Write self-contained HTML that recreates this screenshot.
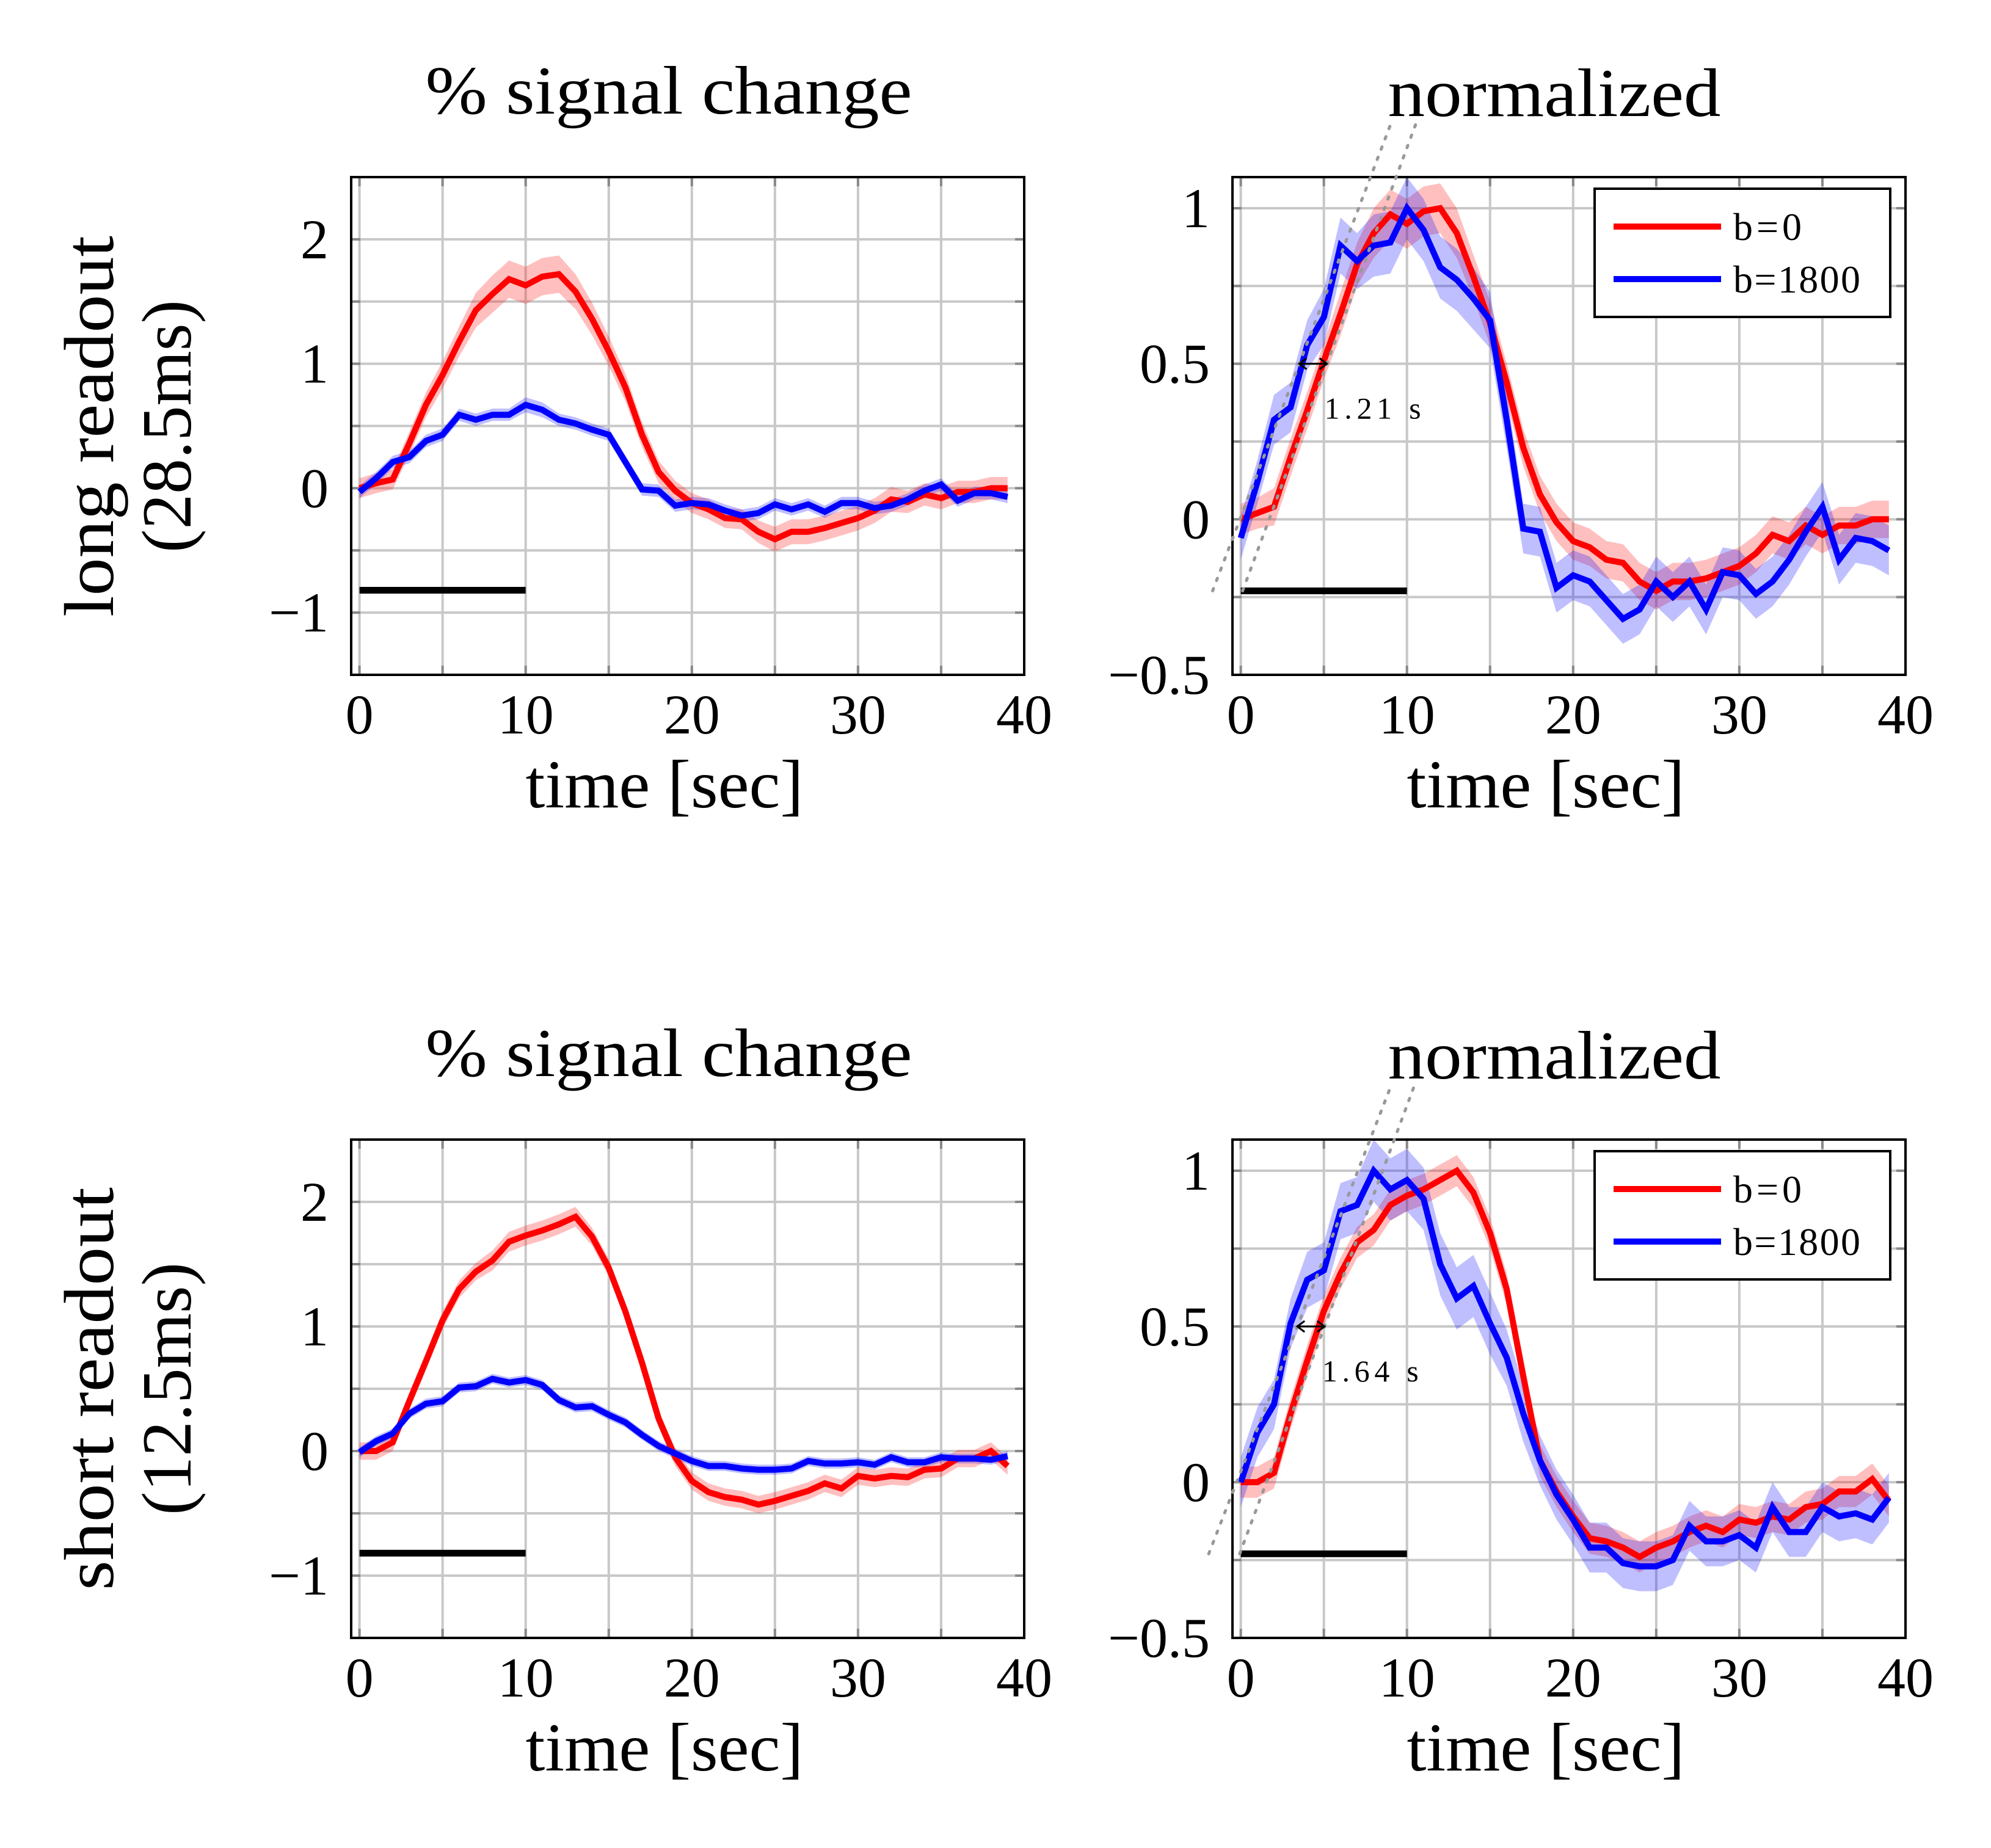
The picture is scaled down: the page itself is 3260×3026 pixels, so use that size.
<!DOCTYPE html>
<html><head><meta charset="utf-8"><title>BOLD response</title>
<style>
html,body{margin:0;padding:0;background:#fff;}
svg{display:block;font-family:"Liberation Serif",serif;}
</style></head>
<body>
<svg id="fig" width="3260" height="3026" viewBox="0 0 3260 3026" xmlns="http://www.w3.org/2000/svg">
<rect x="0" y="0" width="3260" height="3026" fill="#fff"/>
<text x="1095" y="186" font-size="112" text-anchor="middle" textLength="797" lengthAdjust="spacingAndGlyphs">% signal change</text>
<text x="2545" y="190" font-size="112" text-anchor="middle" textLength="545" lengthAdjust="spacingAndGlyphs">normalized</text>
<text x="1095" y="1762" font-size="112" text-anchor="middle" textLength="797" lengthAdjust="spacingAndGlyphs">% signal change</text>
<text x="2545" y="1766" font-size="112" text-anchor="middle" textLength="545" lengthAdjust="spacingAndGlyphs">normalized</text>
<g transform="translate(185,698) rotate(-90)">
<text x="0" y="0" font-size="115" text-anchor="middle" textLength="624" lengthAdjust="spacingAndGlyphs">long readout</text>
<text x="0" y="127" font-size="115" text-anchor="middle" textLength="414" lengthAdjust="spacingAndGlyphs">(28.5ms)</text>
</g>
<g transform="translate(185,2274) rotate(-90)">
<text x="0" y="0" font-size="115" text-anchor="middle" textLength="660" lengthAdjust="spacingAndGlyphs">short readout</text>
<text x="0" y="127" font-size="115" text-anchor="middle" textLength="414" lengthAdjust="spacingAndGlyphs">(12.5ms)</text>
</g>
</svg>
<script>
// ---------- data ----------
const times = [0,1,2,3,4,5,6,7,8,9,10,11,12,13,14,15,16,17,18,19,20,21,22,23,24,25,26,27,28,29,30,31,32,33,34,35,36,37,38,39];
const xTicks = [0,10,20,30,40];
const pctTicks = [-1,0,1,2];
const pctTickLabels = ["\u22121","0","1","2"];
const normTicks = [-0.5,0,0.5,1];
const normTickLabels = ["\u22120.5","0","0.5","1"];
const legendLabels = ["b=0","b=1800"];

const tlRed  = [0.0,0.04,0.07,0.36,0.67,0.91,1.18,1.43,1.56,1.68,1.63,1.70,1.72,1.58,1.36,1.10,0.81,0.43,0.13,-0.02,-0.12,-0.17,-0.24,-0.25,-0.35,-0.41,-0.35,-0.35,-0.32,-0.28,-0.24,-0.18,-0.09,-0.11,-0.05,-0.08,-0.03,-0.03,0.0,0.0];
const tlRedErr = [0.08,0.08,0.08,0.09,0.1,0.11,0.12,0.14,0.15,0.15,0.15,0.15,0.15,0.14,0.13,0.12,0.11,0.1,0.09,0.08,0.08,0.08,0.08,0.08,0.09,0.1,0.1,0.1,0.1,0.1,0.1,0.1,0.1,0.09,0.09,0.09,0.09,0.09,0.09,0.09];
const tlBlue = [-0.03,0.08,0.21,0.25,0.38,0.43,0.59,0.55,0.59,0.59,0.67,0.63,0.55,0.52,0.47,0.43,0.21,-0.01,-0.02,-0.14,-0.12,-0.13,-0.18,-0.22,-0.20,-0.13,-0.17,-0.13,-0.19,-0.12,-0.12,-0.16,-0.14,-0.09,-0.02,0.03,-0.10,-0.04,-0.04,-0.07];
const tlBlueErr = [0.05,0.05,0.05,0.05,0.05,0.05,0.05,0.05,0.05,0.05,0.06,0.06,0.05,0.05,0.05,0.05,0.05,0.05,0.05,0.05,0.05,0.05,0.05,0.05,0.05,0.05,0.05,0.05,0.05,0.05,0.05,0.05,0.05,0.05,0.05,0.05,0.05,0.05,0.05,0.05];

const trRed  = [0.0,0.02,0.04,0.2,0.35,0.51,0.66,0.82,0.92,0.98,0.95,0.99,1.0,0.92,0.78,0.63,0.44,0.23,0.08,-0.01,-0.07,-0.09,-0.13,-0.14,-0.2,-0.23,-0.2,-0.2,-0.19,-0.17,-0.15,-0.11,-0.05,-0.07,-0.02,-0.05,-0.02,-0.02,0.0,0.0];
const trRedErr = [0.05,0.05,0.06,0.06,0.06,0.06,0.07,0.07,0.08,0.08,0.08,0.08,0.08,0.08,0.07,0.07,0.06,0.06,0.06,0.06,0.06,0.06,0.06,0.06,0.06,0.06,0.06,0.06,0.06,0.06,0.06,0.06,0.06,0.06,0.06,0.06,0.06,0.06,0.06,0.06];
const trBlue = [-0.06,0.12,0.32,0.36,0.56,0.65,0.88,0.83,0.88,0.89,1.0,0.93,0.81,0.77,0.71,0.64,0.32,-0.03,-0.04,-0.22,-0.18,-0.2,-0.26,-0.32,-0.29,-0.2,-0.25,-0.2,-0.29,-0.17,-0.18,-0.24,-0.2,-0.13,-0.04,0.04,-0.13,-0.06,-0.07,-0.1];
const trBlueErr = [0.07,0.07,0.08,0.08,0.08,0.09,0.09,0.09,0.1,0.1,0.1,0.1,0.1,0.1,0.1,0.09,0.09,0.08,0.08,0.08,0.08,0.08,0.08,0.08,0.08,0.08,0.08,0.08,0.08,0.08,0.08,0.08,0.08,0.08,0.08,0.08,0.08,0.08,0.08,0.08];
const trTangentX = [3.52,5.18];
const trTangentSlope = [0.140,0.144];
const trLagLabel = "1.21 s";

const blRed  = [0.0,0.0,0.07,0.4,0.72,1.05,1.3,1.44,1.53,1.68,1.73,1.77,1.82,1.88,1.72,1.47,1.12,0.71,0.26,-0.05,-0.24,-0.33,-0.37,-0.39,-0.43,-0.40,-0.36,-0.32,-0.26,-0.30,-0.20,-0.22,-0.20,-0.21,-0.15,-0.14,-0.06,-0.06,0.0,-0.12];
const blRedErr = [0.07,0.07,0.07,0.07,0.07,0.07,0.07,0.07,0.08,0.08,0.08,0.08,0.08,0.08,0.07,0.07,0.07,0.07,0.07,0.07,0.07,0.07,0.07,0.07,0.07,0.07,0.07,0.07,0.07,0.07,0.07,0.07,0.07,0.07,0.07,0.07,0.07,0.07,0.07,0.07];
const blBlue = [-0.01,0.08,0.14,0.3,0.38,0.4,0.51,0.52,0.58,0.55,0.57,0.53,0.41,0.35,0.36,0.29,0.23,0.13,0.04,-0.02,-0.08,-0.12,-0.12,-0.14,-0.15,-0.15,-0.14,-0.08,-0.1,-0.1,-0.09,-0.11,-0.05,-0.09,-0.09,-0.05,-0.06,-0.06,-0.07,-0.04];
const blBlueErr = [0.04,0.04,0.04,0.04,0.04,0.04,0.04,0.04,0.04,0.04,0.04,0.04,0.04,0.04,0.04,0.04,0.04,0.04,0.04,0.04,0.04,0.04,0.04,0.04,0.04,0.04,0.04,0.04,0.04,0.04,0.04,0.04,0.04,0.04,0.04,0.04,0.04,0.04,0.04,0.04];

const brRed  = [0.0,0.0,0.03,0.22,0.39,0.55,0.67,0.77,0.81,0.89,0.92,0.94,0.97,1.0,0.93,0.8,0.62,0.34,0.07,-0.03,-0.11,-0.18,-0.19,-0.21,-0.24,-0.21,-0.19,-0.16,-0.14,-0.16,-0.12,-0.13,-0.11,-0.12,-0.08,-0.07,-0.03,-0.03,0.01,-0.06];
const brRedErr = [0.05,0.05,0.05,0.05,0.05,0.05,0.05,0.05,0.05,0.05,0.05,0.05,0.05,0.05,0.05,0.05,0.05,0.05,0.05,0.05,0.05,0.05,0.05,0.05,0.05,0.05,0.05,0.05,0.05,0.05,0.05,0.05,0.05,0.05,0.05,0.05,0.05,0.05,0.05,0.05];
const brBlue = [0.0,0.16,0.25,0.51,0.65,0.68,0.87,0.89,1.0,0.94,0.97,0.91,0.70,0.59,0.63,0.51,0.40,0.22,0.07,-0.04,-0.12,-0.21,-0.21,-0.26,-0.27,-0.27,-0.25,-0.14,-0.19,-0.19,-0.17,-0.21,-0.08,-0.16,-0.16,-0.08,-0.11,-0.10,-0.12,-0.05];
const brBlueErr = [0.08,0.08,0.08,0.08,0.09,0.09,0.09,0.09,0.1,0.1,0.1,0.1,0.1,0.1,0.1,0.1,0.09,0.09,0.08,0.08,0.08,0.08,0.08,0.08,0.08,0.08,0.08,0.08,0.08,0.08,0.08,0.08,0.08,0.08,0.08,0.08,0.08,0.08,0.08,0.08];
const brTangentX = [3.40,5.04];
const brTangentSlope = [0.137,0.143];
const brLagLabel = "1.64 s";

const stimOn = [0,10];

// ---------- drawing ----------
const NS = "http://www.w3.org/2000/svg";
const svg = document.getElementById("fig");
function mk(tag, attrs, parent){
  const e = document.createElementNS(NS, tag);
  for (const k in attrs) e.setAttribute(k, attrs[k]);
  (parent||svg).appendChild(e);
  return e;
}

function panel(id, L, T, W, H, ymin, ymax, ygrid, yTicks, yLabels, red, redErr, blue, blueErr, stimY, legend, tanX, tanS, lagLabel){
  const xmin = -0.5, xmax = 40;
  const sx = v => L + (v - xmin) / (xmax - xmin) * W;
  const sy = v => T + (ymax - v) / (ymax - ymin) * H;
  const g = mk("g", {});
  
  
  const cp = mk("clipPath", {id: id + "-clip"}, g);
  mk("rect", {x: L, y: T, width: W, height: H}, cp);
  // grid
  const grid = mk("g", {stroke: "#c8c8c8", "stroke-width": 4}, g);
  
  
  for (let x = 0; x <= 40; x += 5) mk("line", {x1: sx(x), x2: sx(x), y1: T, y2: T + H}, grid);
  for (let k = Math.ceil(ymin / ygrid); k * ygrid <= ymax + 1e-9; k++) {
    const y = sy(k * ygrid);
    mk("line", {x1: L, x2: L + W, y1: y, y2: y}, grid);
  }
  // tick marks
  const tk = mk("g", {stroke: "#888", "stroke-width": 4}, g);
  for (let x = 0; x <= 40; x += 5) {
    mk("line", {x1: sx(x), x2: sx(x), y1: T, y2: T + 15}, tk);
    mk("line", {x1: sx(x), x2: sx(x), y1: T + H, y2: T + H - 15}, tk);
  }
  for (let k = Math.ceil(ymin / ygrid); k * ygrid <= ymax + 1e-9; k++) {
    const y = sy(k * ygrid);
    mk("line", {x1: L, x2: L + 15, y1: y, y2: y}, tk);
    mk("line", {x1: L + W, x2: L + W - 15, y1: y, y2: y}, tk);
  }
  const plot = mk("g", {"clip-path": "url(#" + id + "-clip)"}, g);
  function band(vals, err, fill, name){
    let d = "";
    times.forEach((t, i) => { d += (i ? "L" : "M") + sx(t).toFixed(1) + "," + sy(vals[i] + err[i]).toFixed(1); });
    for (let i = times.length - 1; i >= 0; i--) d += "L" + sx(times[i]).toFixed(1) + "," + sy(vals[i] - err[i]).toFixed(1);
    const p = mk("path", {d: d + "Z", fill: fill, stroke: "none"}, plot);
    
    
  }
  function line(vals, color, name){
    const pts = times.map((t, i) => sx(t).toFixed(1) + "," + sy(vals[i]).toFixed(1)).join(" ");
    const p = mk("polyline", {points: pts, fill: "none", stroke: color, "stroke-width": 10, "stroke-linejoin": "miter"}, plot);
    
    
  }
  band(red, redErr, "rgba(255,0,0,0.25)", "red-error-band");
  band(blue, blueErr, "rgba(0,0,255,0.25)", "blue-error-band");
  line(red, "#ff0000", "red-line-b0");
  line(blue, "#0000ff", "blue-line-b1800");
  // stimulus bar
  const sb = mk("line", {x1: sx(stimOn[0]), x2: sx(stimOn[1]), y1: sy(stimY), y2: sy(stimY), stroke: "#000", "stroke-width": 11}, g);
  
  
  // frame
  const fr = mk("rect", {x: L, y: T, width: W, height: H, fill: "none", stroke: "#000", "stroke-width": 4}, g);
  
  
  // x tick labels
  xTicks.forEach(v => {
    const t = mk("text", {x: sx(v), y: T + H + 96, "font-size": 92, "text-anchor": "middle"}, g);
    
    
    t.textContent = v;
  });
  // y tick labels
  yTicks.forEach((v, i) => {
    const t = mk("text", {x: L - 37, y: sy(v) + 31, "font-size": 92, "text-anchor": "end"}, g);
    
    
    t.textContent = yLabels[i];
  });
  // x axis title
  const xt = mk("text", {x: L + W / 2 - 38, y: T + H + 217, "font-size": 112, "text-anchor": "middle", textLength: 455, lengthAdjust: "spacingAndGlyphs"}, g);
  
  
  xt.textContent = "time [sec]";
  if (legend) {
    // tangent lines
    const ylo = -0.23, yhi = 1.27;
    tanX.forEach((x50, i) => {
      const s = tanS[i];
      const l = mk("line", {x1: sx(x50 + (ylo - 0.5) / s), y1: sy(ylo), x2: sx(x50 + (yhi - 0.5) / s), y2: sy(yhi), stroke: "#999", "stroke-width": 5, "stroke-dasharray": "4 14", "stroke-linecap": "round"}, g);
      
      
    });
    // lag arrow
    const ax1 = sx(tanX[0]), ax2 = sx(tanX[1]), ay = sy(0.5);
    const ar = mk("g", {stroke: "#000", "stroke-width": 3, fill: "none"}, g);
    
    
    mk("line", {x1: ax1, x2: ax2, y1: ay, y2: ay}, ar);
    mk("path", {d: `M${ax1 + 12},${ay - 9} L${ax1},${ay} L${ax1 + 12},${ay + 9}`}, ar);
    mk("path", {d: `M${ax2 - 12},${ay - 9} L${ax2},${ay} L${ax2 - 12},${ay + 9}`}, ar);
    const lt = mk("text", {x: sx(tanX[1]) - 4, y: ay + 90, "font-size": 50, textLength: 158, lengthAdjust: "spacing"}, g);
    
    
    lt.textContent = lagLabel;
    // legend
    const lg = mk("g", {}, g);
    
    
    mk("rect", {x: L + 593, y: T + 19, width: 484, height: 210, fill: "#fff", stroke: "#000", "stroke-width": 4}, lg);
    const cols = ["#ff0000", "#0000ff"];
    legendLabels.forEach((lab, i) => {
      const yy = T + 81 + i * 86;
      const e = mk("g", {}, lg);
      
      
      mk("line", {x1: L + 624, x2: L + 800, y1: yy, y2: yy, stroke: cols[i], "stroke-width": 10}, e);
      const t = mk("text", {x: L + 820, y: yy + 22, "font-size": 64, textLength: i ? 208 : 112, lengthAdjust: "spacing"}, e);
      t.textContent = lab;
    });
  }
}

panel("top-left", 575, 290, 1102, 815, -1.5, 2.5, 0.5, pctTicks, pctTickLabels, tlRed, tlRedErr, tlBlue, tlBlueErr, -0.82, false);
panel("top-right", 2018, 290, 1102, 815, -0.5, 1.1, 0.25, normTicks, normTickLabels, trRed, trRedErr, trBlue, trBlueErr, -0.23, true, trTangentX, trTangentSlope, trLagLabel);
panel("bottom-left", 575, 1866, 1102, 816, -1.5, 2.5, 0.5, pctTicks, pctTickLabels, blRed, blRedErr, blBlue, blBlueErr, -0.82, false);
panel("bottom-right", 2018, 1866, 1102, 816, -0.5, 1.1, 0.25, normTicks, normTickLabels, brRed, brRedErr, brBlue, brBlueErr, -0.23, true, brTangentX, brTangentSlope, brLagLabel);
</script>
</body></html>
